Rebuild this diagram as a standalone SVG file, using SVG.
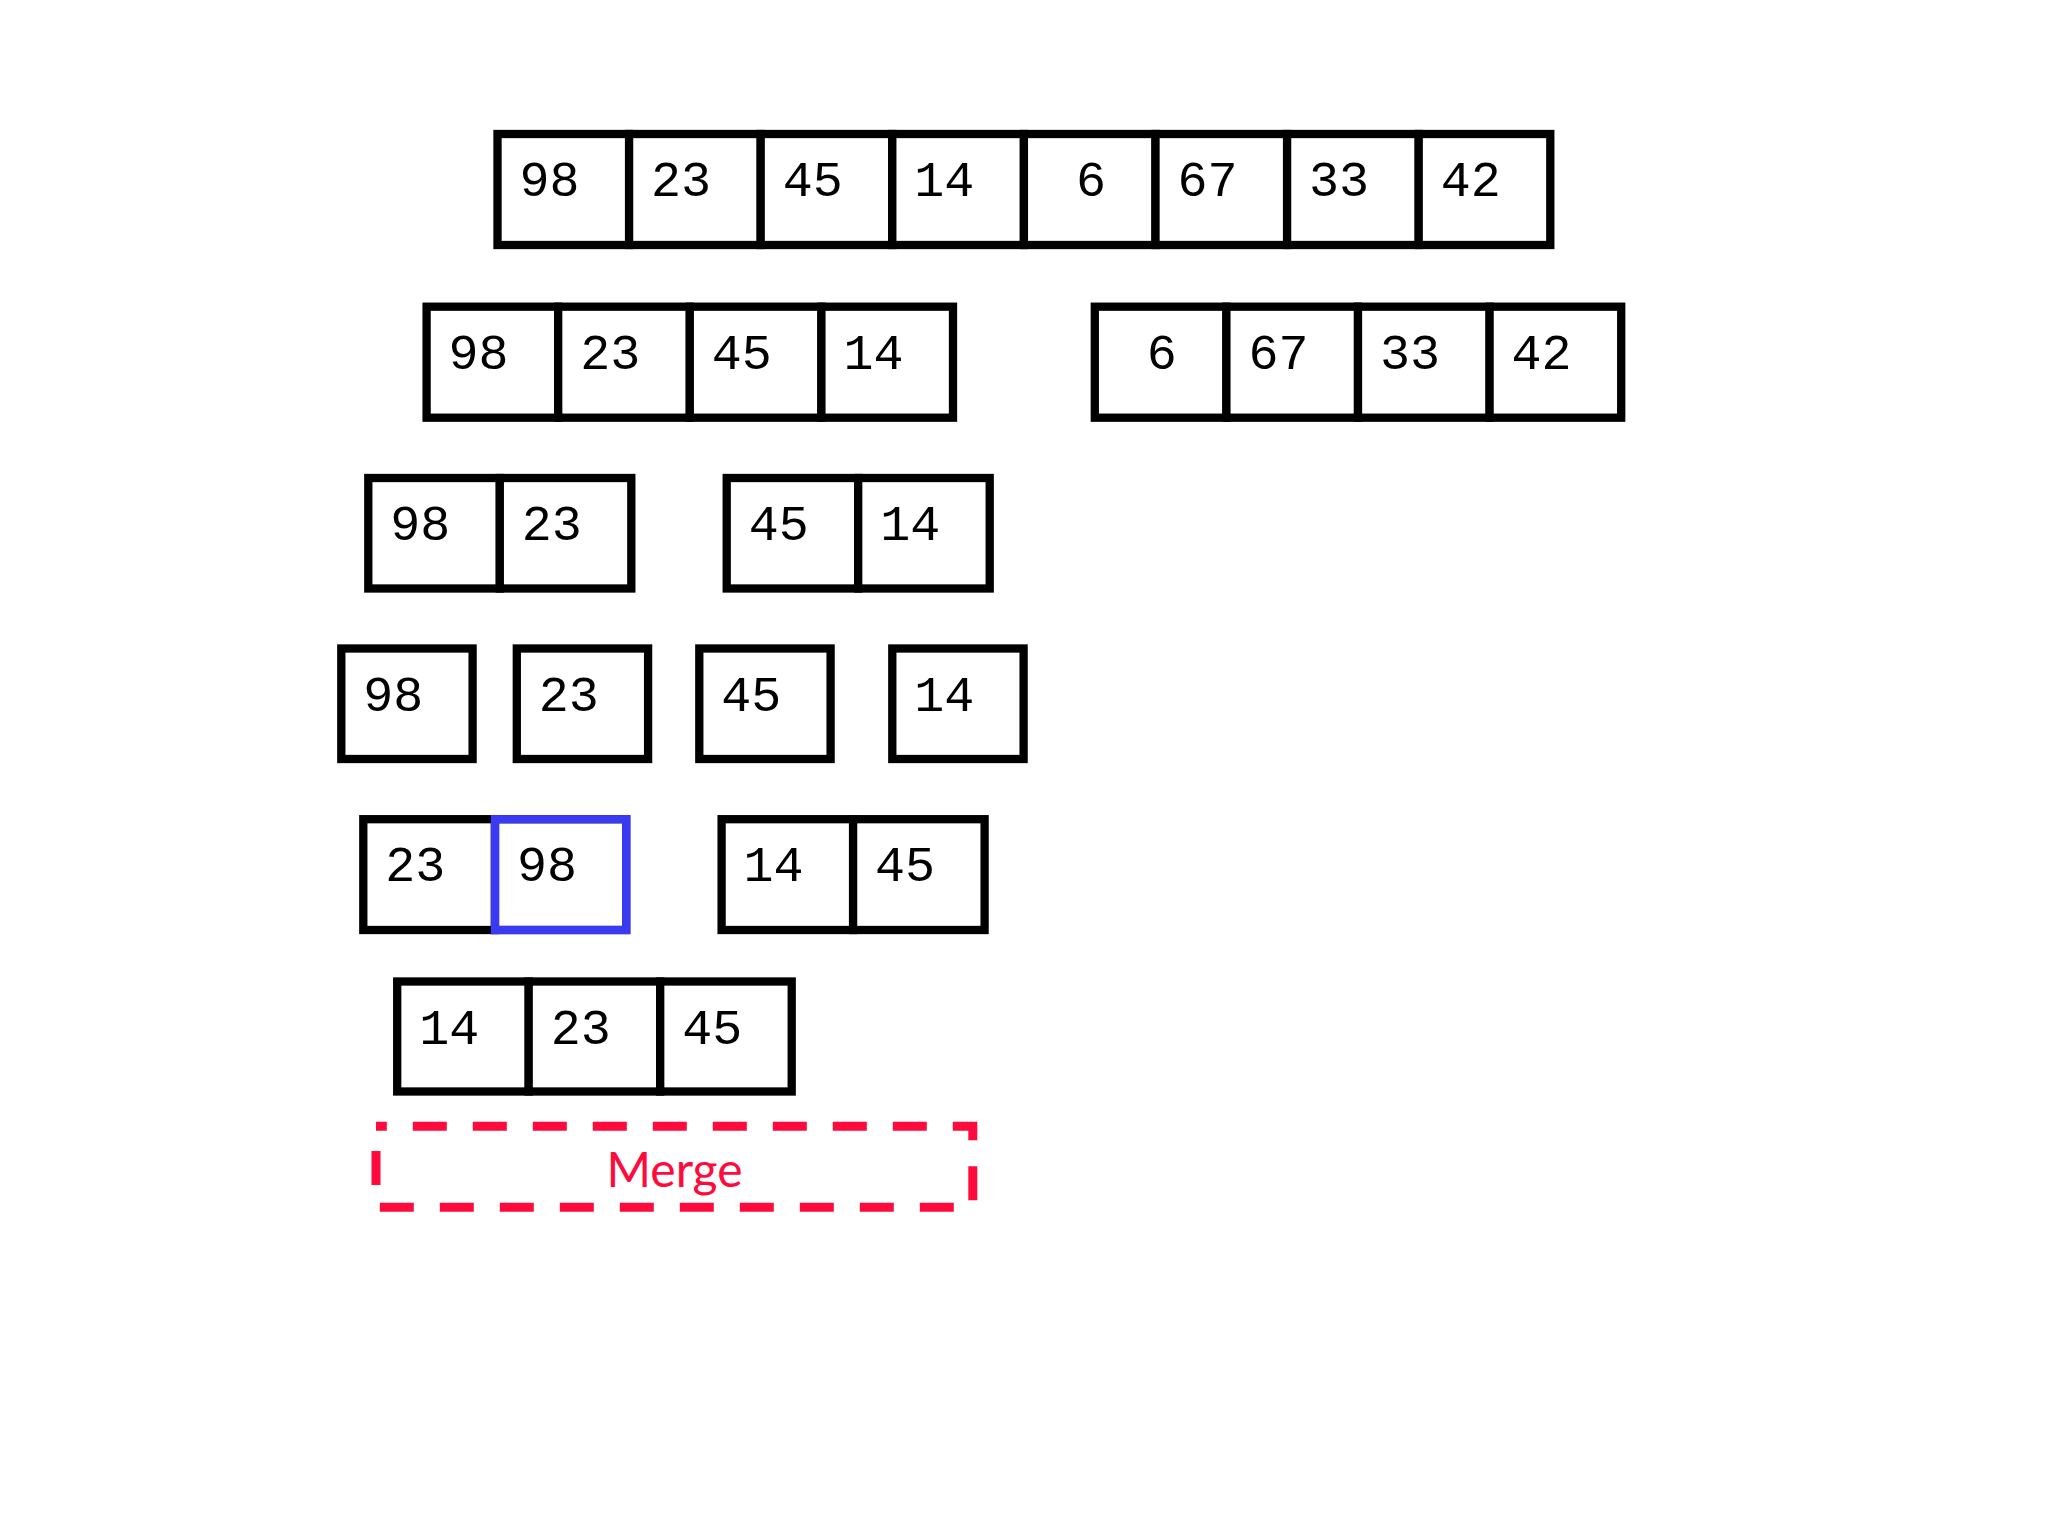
<svg xmlns="http://www.w3.org/2000/svg" width="2048" height="1536" viewBox="0 0 2048 1536">
  <style>
    .cell { fill: #ffffff; stroke: #000000; stroke-width: 8.3; }
    .hl { fill: none; stroke: #3a3af2; stroke-width: 8.3; }
    .num { font-family: "Liberation Mono", "Courier New", monospace; font-size: 50px; fill: #000000; }
    .merge-box { fill: none; stroke: #ff0a3c; stroke-width: 9; stroke-dasharray: 34 26; stroke-dashoffset: 23.2; }
    .merge-text { font-family: Lato, "Open Sans", sans-serif; font-size: 48px; fill: #ff0a3c; text-anchor: middle; }
  </style>
  <rect width="2048" height="1536" fill="#ffffff"/>

  <!-- Row 1 -->
  <g id="row1">
    <rect class="cell" x="497.5" y="134" width="131.6" height="111"/>
    <rect class="cell" x="629.1" y="134" width="131.6" height="111"/>
    <rect class="cell" x="760.7" y="134" width="131.6" height="111"/>
    <rect class="cell" x="892.3" y="134" width="131.6" height="111"/>
    <rect class="cell" x="1023.9" y="134" width="131.6" height="111"/>
    <rect class="cell" x="1155.5" y="134" width="131.6" height="111"/>
    <rect class="cell" x="1287.1" y="134" width="131.6" height="111"/>
    <rect class="cell" x="1418.7" y="134" width="131.6" height="111"/>
    <text class="num" x="519.5" y="196">98</text>
    <text class="num" x="651.1" y="196">23</text>
    <text class="num" x="782.7" y="196">45</text>
    <text class="num" x="914.3" y="196">14</text>
    <text class="num" x="1075.9" y="196">6</text>
    <text class="num" x="1177.5" y="196">67</text>
    <text class="num" x="1309.1" y="196">33</text>
    <text class="num" x="1440.7" y="196">42</text>
  </g>

  <!-- Row 2 left -->
  <g id="row2-left">
    <rect class="cell" x="426.6" y="306.7" width="131.6" height="111"/>
    <rect class="cell" x="558.2" y="306.7" width="131.6" height="111"/>
    <rect class="cell" x="689.8" y="306.7" width="131.6" height="111"/>
    <rect class="cell" x="821.4" y="306.7" width="131.6" height="111"/>
    <text class="num" x="448.6" y="368.7">98</text>
    <text class="num" x="580.2" y="368.7">23</text>
    <text class="num" x="711.8" y="368.7">45</text>
    <text class="num" x="843.4" y="368.7">14</text>
  </g>

  <!-- Row 2 right -->
  <g id="row2-right">
    <rect class="cell" x="1094.8" y="306.7" width="131.6" height="111"/>
    <rect class="cell" x="1226.4" y="306.7" width="131.6" height="111"/>
    <rect class="cell" x="1358" y="306.7" width="131.6" height="111"/>
    <rect class="cell" x="1489.6" y="306.7" width="131.6" height="111"/>
    <text class="num" x="1146.8" y="368.7">6</text>
    <text class="num" x="1248.4" y="368.7">67</text>
    <text class="num" x="1380" y="368.7">33</text>
    <text class="num" x="1511.6" y="368.7">42</text>
  </g>

  <!-- Row 3 -->
  <g id="row3-left">
    <rect class="cell" x="368.3" y="478" width="131.5" height="110.5"/>
    <rect class="cell" x="499.8" y="478" width="131.5" height="110.5"/>
    <text class="num" x="390.3" y="540">98</text>
    <text class="num" x="521.8" y="540">23</text>
  </g>
  <g id="row3-right">
    <rect class="cell" x="726.7" y="478" width="131.5" height="110.5"/>
    <rect class="cell" x="858.2" y="478" width="131.5" height="110.5"/>
    <text class="num" x="748.7" y="540">45</text>
    <text class="num" x="880.2" y="540">14</text>
  </g>

  <!-- Row 4 -->
  <g id="row4-a">
    <rect class="cell" x="341.3" y="648.5" width="131.3" height="110.5"/>
    <text class="num" x="363.3" y="710.5">98</text>
  </g>
  <g id="row4-b">
    <rect class="cell" x="516.8" y="648.5" width="131.3" height="110.5"/>
    <text class="num" x="538.8" y="710.5">23</text>
  </g>
  <g id="row4-c">
    <rect class="cell" x="699.3" y="648.5" width="131.3" height="110.5"/>
    <text class="num" x="721.3" y="710.5">45</text>
  </g>
  <g id="row4-d">
    <rect class="cell" x="892.3" y="648.5" width="131.3" height="110.5"/>
    <text class="num" x="914.3" y="710.5">14</text>
  </g>

  <!-- Row 5 -->
  <g id="row5-left">
    <rect class="cell" x="363.3" y="819.2" width="131.7" height="110.8"/>
    <rect class="cell" x="495" y="819.2" width="131.2" height="110.8"/>
    <rect class="hl" x="495" y="819.2" width="131.2" height="110.8"/>
    <text class="num" x="385.3" y="881.2">23</text>
    <text class="num" x="517" y="881.2">98</text>
  </g>
  <g id="row5-right">
    <rect class="cell" x="721.6" y="819.2" width="131.5" height="110.8"/>
    <rect class="cell" x="853.1" y="819.2" width="131.5" height="110.8"/>
    <text class="num" x="743.6" y="881.2">14</text>
    <text class="num" x="875.1" y="881.2">45</text>
  </g>

  <!-- Row 6 -->
  <g id="row6">
    <rect class="cell" x="397.2" y="981.5" width="131.5" height="110"/>
    <rect class="cell" x="528.7" y="981.5" width="131.5" height="110"/>
    <rect class="cell" x="660.2" y="981.5" width="131.5" height="110"/>
    <text class="num" x="419.2" y="1043.5">14</text>
    <text class="num" x="550.7" y="1043.5">23</text>
    <text class="num" x="682.2" y="1043.5">45</text>
  </g>

  <!-- Merge label -->
  <g id="merge">
    <rect class="merge-box" x="376" y="1126.2" width="596.8" height="81"/>
    <text class="merge-text" x="674.5" y="1187.3">Merge</text>
  </g>

  <g id="connectors"/>
</svg>
